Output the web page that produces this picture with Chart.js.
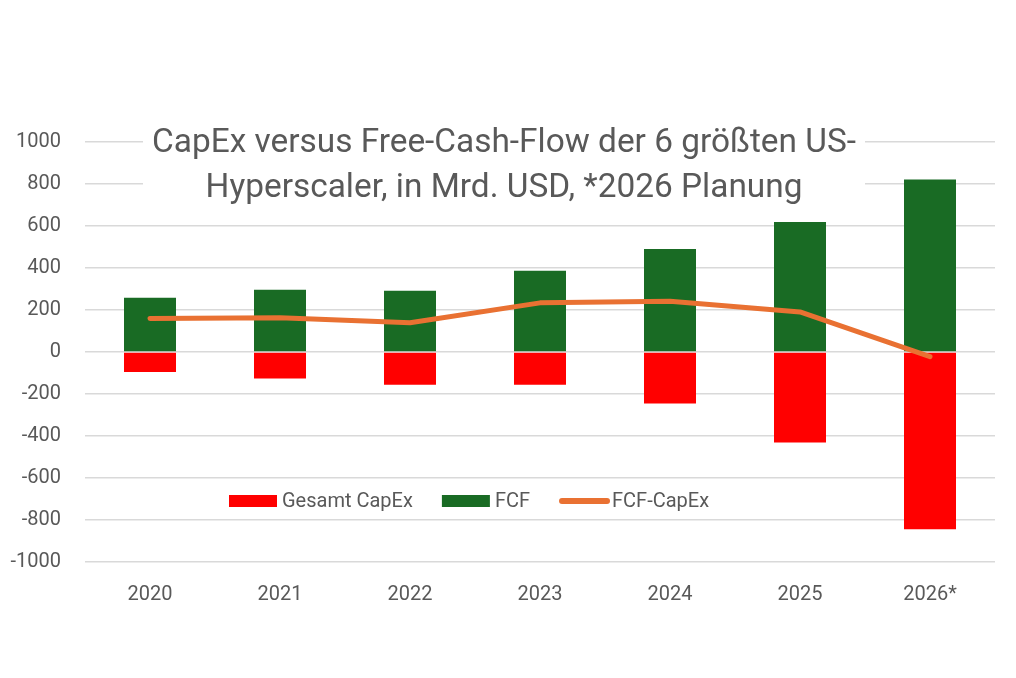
<!DOCTYPE html>
<html>
<head>
<meta charset="utf-8">
<script src="https://cdn.jsdelivr.net/npm/chart.js@4.4.1/dist/chart.umd.min.js"></script>
<style>
  html, body { margin: 0; padding: 0; background: #fff; }
  #wrap { width: 1016px; height: 678px; position: relative; }
</style>
</head>
<body>
<div id="wrap"><canvas id="c" width="1016" height="678"></canvas></div>
<script>
const years = ['2020', '2021', '2022', '2023', '2024', '2025', '2026*'];
const capex = [-95, -126, -156, -156, -245, -431, -844];
const fcf = [258, 297, 292, 387, 491, 619, 822];
const fcfMinusCapex = [160, 163, 139, 234, 242, 191, -22];
const yTicks = { min: -1000, max: 1000, step: 200 };
const titleLines = ['CapEx versus Free-Cash-Flow der 6 größten US-', 'Hyperscaler, in Mrd. USD, *2026 Planung'];
const seriesNames = ['Gesamt CapEx', 'FCF', 'FCF-CapEx'];

const TEXT = '#595959';
const GRID = '#D9D9D9';
const RED = '#FF0000';
const GREEN = '#196B24';
const ORANGE = '#E97132';
const FONT = 'Roboto, "Noto Sans", sans-serif';

const overlayPlugin = {
  id: 'overlay',
  afterDraw(chart) {
    const ctx = chart.ctx;
    ctx.save();
    // title box (white) over the grid
    ctx.fillStyle = '#ffffff';
    ctx.fillRect(143, 112, 722, 100);
    ctx.fillStyle = TEXT;
    ctx.font = '33.4px ' + FONT;
    ctx.textAlign = 'center';
    ctx.textBaseline = 'alphabetic';
    ctx.fillText(chart.options.plugins.title.text[0], 504, 152);
    ctx.fillText(chart.options.plugins.title.text[1], 504, 197);

    // legend
    ctx.font = '20px ' + FONT;
    ctx.textAlign = 'left';
    ctx.textBaseline = 'middle';
    const yc = 501;
    let x = 229;
    const ds = chart.data.datasets;
    [0, 1, 2].forEach(i => {
      const d = ds[i];
      if (d.type === 'line') {
        ctx.strokeStyle = d.borderColor;
        ctx.lineWidth = 6;
        ctx.lineCap = 'round';
        ctx.beginPath();
        ctx.moveTo(x + 3, yc);
        ctx.lineTo(x + 48, yc);
        ctx.stroke();
      } else {
        ctx.fillStyle = d.backgroundColor;
        ctx.fillRect(x, yc - 6, 48, 12);
      }
      x += 53;
      ctx.fillStyle = TEXT;
      ctx.fillText(d.label, x, yc + 1);
      x += ctx.measureText(d.label).width + 29;
    });
    ctx.restore();
  }
};

new Chart(document.getElementById('c'), {
  data: {
    labels: years,
    datasets: [
      { type: 'bar', label: seriesNames[0], data: capex, backgroundColor: RED, order: 1,
        barPercentage: 0.4, categoryPercentage: 1 },
      { type: 'bar', label: seriesNames[1], data: fcf, backgroundColor: GREEN, order: 1,
        barPercentage: 0.4, categoryPercentage: 1 },
      { type: 'line', label: seriesNames[2], data: fcfMinusCapex, borderColor: ORANGE,
        backgroundColor: ORANGE, borderWidth: 5, pointRadius: 0, tension: 0,
        borderCapStyle: 'round', borderJoinStyle: 'round', order: 0 }
    ]
  },
  options: {
    responsive: false,
    animation: false,
    devicePixelRatio: 1,
    layout: { padding: { top: 142, right: 21, bottom: 0, left: 0 } },
    plugins: {
      legend: { display: false },
      title: { display: false, text: titleLines },
      tooltip: { enabled: false }
    },
    scales: {
      x: {
        stacked: true,
        grid: { display: false, drawTicks: false },
        border: { display: false },
        ticks: { color: TEXT, font: { family: FONT, size: 20 }, padding: 21 },
        afterFit(s) { s.height = 116; }
      },
      y: {
        min: yTicks.min, max: yTicks.max,
        grid: { color: GRID, lineWidth: 1.5, drawTicks: false },
        border: { display: false },
        ticks: { stepSize: yTicks.step, color: TEXT, font: { family: FONT, size: 20 }, padding: 24,
          callback: v => String(v) },
        afterFit(s) { s.width = 85; }
      }
    }
  },
  plugins: [overlayPlugin]
});
</script>
</body>
</html>
